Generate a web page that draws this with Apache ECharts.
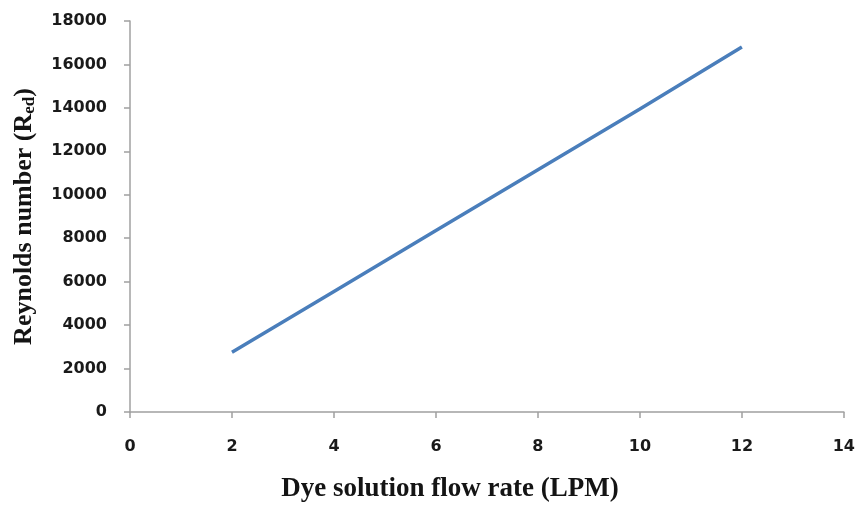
<!DOCTYPE html>
<html>
<head>
<meta charset="utf-8">
<script src="https://cdn.jsdelivr.net/npm/echarts@6/dist/echarts.min.js"></script>
<style>
  html, body { margin: 0; padding: 0; background: #fff; }
  #chart { width: 858px; height: 514px; }
</style>
</head>
<body>
<div id="chart"></div>
<script>
// flow rate (LPM) vs Reynolds number
var flowRate = [2, 4, 6, 8, 10, 12];
var reynolds = [2750, 5550, 8350, 11150, 13950, 16800];

var chart = echarts.init(document.getElementById("chart"));

var seriesData = flowRate.map(function(x, i){ return [x, reynolds[i]]; });

var option = {
    animation: false,
    grid: { left: 130, right: 14, top: 21, bottom: 102 },
    xAxis: {
        type: 'value',
        min: 0, max: 14, interval: 2,
        name: 'Dye solution flow rate (LPM)',
        nameLocation: 'middle',
        nameGap: 64,
        nameTextStyle: { fontFamily: 'Liberation Serif', fontWeight: 'bold', fontSize: 27, color: '#141414', padding: [0, 74, 0, 0] },
        axisLine: { lineStyle: { color: '#a0a0a0', width: 1.5 } },
        axisTick: { show: true, length: 6, lineStyle: { color: '#a0a0a0', width: 1.5 } },
        axisLabel: { margin: 27, fontFamily: 'DejaVu Sans', fontWeight: 'bold', fontSize: 16, color: '#1a1a1a' },
        splitLine: { show: false }
    },
    yAxis: {
        type: 'value',
        min: 0, max: 18000, interval: 2000,
        name: '{a|Reynolds number (R}{s|ed}{a|)}',
        nameLocation: 'middle',
        nameGap: 92,
        nameRotate: 90,
        nameTextStyle: {
            rich: {
                a: { fontFamily: 'Liberation Serif', fontWeight: 'bold', fontSize: 26, color: '#141414' },
                s: { fontFamily: 'Liberation Serif', fontWeight: 'bold', fontSize: 17, color: '#141414', padding: [10, 0, 0, 0] }
            }
        },
        axisLine: { show: true, lineStyle: { color: '#a0a0a0', width: 1.5 } },
        axisTick: { show: true, length: 6, lineStyle: { color: '#a0a0a0', width: 1.5 } },
        axisLabel: {
            margin: 23, fontFamily: 'DejaVu Sans', fontWeight: 'bold', fontSize: 16, color: '#1a1a1a',
            formatter: function(v){ return String(v); }
        },
        splitLine: { show: false }
    },
    series: [{
        type: 'line',
        data: seriesData,
        showSymbol: false,
        lineStyle: { color: '#4a7ebb', width: 3.5 }
    }]
};

chart.setOption(option);
</script>
</body>
</html>
